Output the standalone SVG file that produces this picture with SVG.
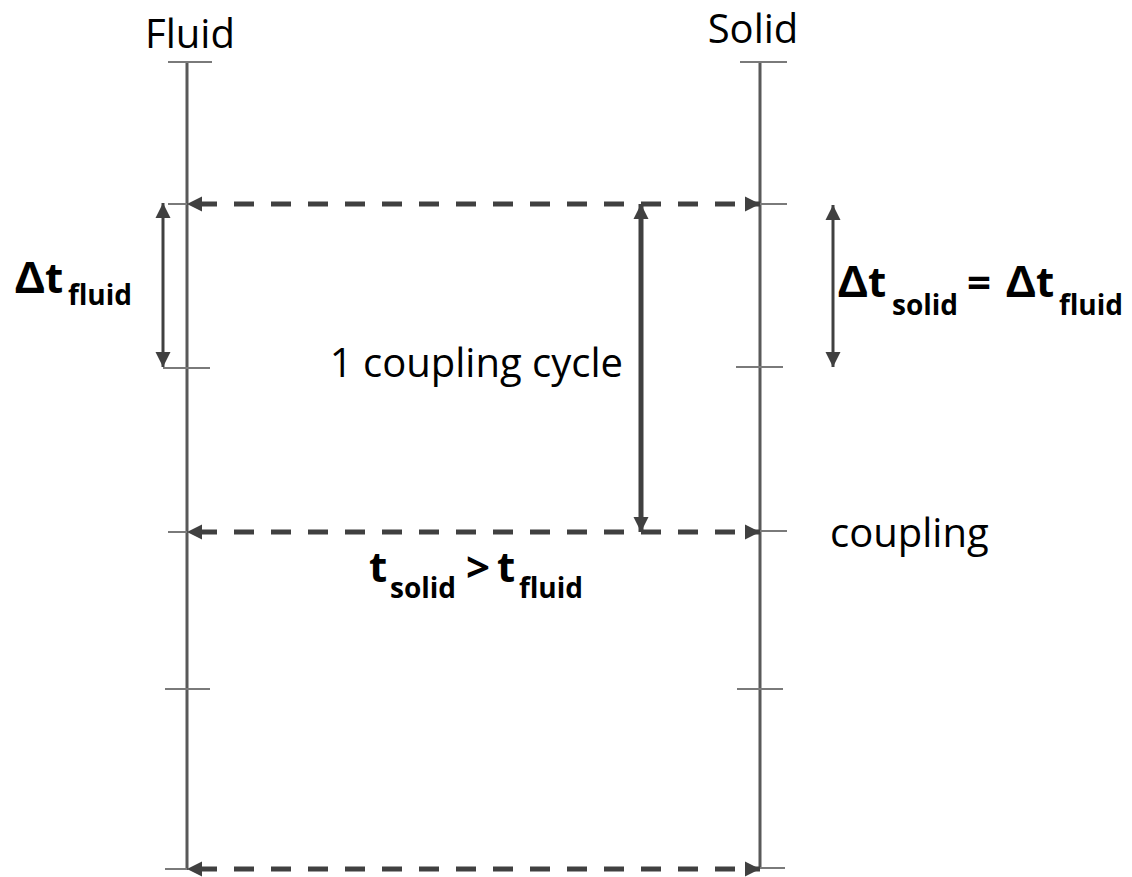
<svg xmlns="http://www.w3.org/2000/svg" width="1132" height="877" viewBox="0 0 1132 877">
<style>
.axis{stroke:#595959;stroke-width:3;fill:none}
.tick{stroke:#7a7a7a;stroke-width:2;fill:none}
.dash{stroke:#404040;stroke-width:5;fill:none;stroke-dasharray:20 17;stroke-dashoffset:27;marker-start:url(#ah);marker-end:url(#ah)}
.solidarr{stroke:#404040;stroke-width:5;fill:none;marker-start:url(#ah);marker-end:url(#ah)}
.thinarr{stroke:#404040;stroke-width:3;fill:none;marker-start:url(#ahs);marker-end:url(#ahs)}
.lbl{font-family:"Open Sans","Noto Sans",sans-serif;font-size:40px;fill:#000}
.b{font-family:"Open Sans","Noto Sans",sans-serif;font-weight:bold;fill:#000}
.d{font-family:"Liberation Sans",Arial,sans-serif;font-weight:bold;font-size:44px}
</style>
<defs>
<marker id="ah" markerUnits="userSpaceOnUse" markerWidth="16" markerHeight="16" refX="15" refY="8" orient="auto-start-reverse">
<path d="M0,0.5 L15,8 L0,15.5 z" fill="#404040"/>
</marker>
<marker id="ahs" markerUnits="userSpaceOnUse" markerWidth="16" markerHeight="16" refX="15" refY="8" orient="auto-start-reverse">
<path d="M0,0.5 L15,8 L0,15.5 z" fill="#404040"/>
</marker>
</defs>
<g id="fluid-axis">
<line class="axis" x1="187" y1="62" x2="187" y2="870"/>
<line class="tick" x1="168" y1="62" x2="212" y2="62"/>
<line class="tick" x1="168" y1="204" x2="187" y2="204"/>
<line class="tick" x1="163" y1="368" x2="210" y2="368"/>
<line class="tick" x1="168" y1="532" x2="187" y2="532"/>
<line class="tick" x1="165" y1="689" x2="210" y2="689"/>
<line class="tick" x1="165" y1="869" x2="187" y2="869"/>
<text class="lbl" x="190" y="48" text-anchor="middle">Fluid</text>
</g>
<g id="solid-axis">
<line class="axis" x1="760" y1="62" x2="760" y2="869"/>
<line class="tick" x1="740" y1="62" x2="787" y2="62"/>
<line class="tick" x1="760" y1="204" x2="787" y2="204"/>
<line class="tick" x1="736" y1="367" x2="783" y2="367"/>
<line class="tick" x1="760" y1="531" x2="787" y2="531"/>
<line class="tick" x1="737" y1="689" x2="783" y2="689"/>
<line class="tick" x1="760" y1="868" x2="785" y2="868"/>
<text class="lbl" x="753" y="43" text-anchor="middle">Solid</text>
</g>
<g id="connectors">
<line class="dash" x1="187" y1="204" x2="760" y2="204"/>
<line class="dash" x1="187" y1="532" x2="760" y2="532"/>
<line class="dash" x1="187" y1="869" x2="760" y2="869"/>
<line class="solidarr" x1="641" y1="204" x2="641" y2="532"/>
<line class="thinarr" x1="163" y1="203" x2="163" y2="367"/>
<line class="thinarr" x1="833" y1="205" x2="833" y2="367"/>
</g>
<g id="label-cycle">
<text class="lbl" x="623" y="377" text-anchor="end">1 coupling cycle</text>
</g>
<g id="label-coupling">
<text class="lbl" x="830" y="547">coupling</text>
</g>
<g id="label-dt-fluid">
<text class="b"><tspan class="d" x="14" y="293">Δ</tspan><tspan x="45" y="293" font-size="42">t</tspan><tspan x="68" y="305" font-size="28">fluid</tspan></text>
</g>
<g id="label-dt-equal">
<text class="b"><tspan class="d" x="837" y="297">Δ</tspan><tspan x="868" y="297" font-size="42">t</tspan><tspan x="892" y="315" font-size="28">solid</tspan><tspan x="967" y="297" font-size="42">=</tspan><tspan class="d" x="1005" y="297">Δ</tspan><tspan x="1036" y="297" font-size="42">t</tspan><tspan x="1059" y="315" font-size="28">fluid</tspan></text>
</g>
<g id="label-t-compare">
<text class="b"><tspan x="369" y="582" font-size="42">t</tspan><tspan x="390" y="598" font-size="28">solid</tspan><tspan x="466" y="582" font-size="42">&gt;</tspan><tspan x="497" y="582" font-size="42">t</tspan><tspan x="519" y="598" font-size="28">fluid</tspan></text>
</g>
</svg>
